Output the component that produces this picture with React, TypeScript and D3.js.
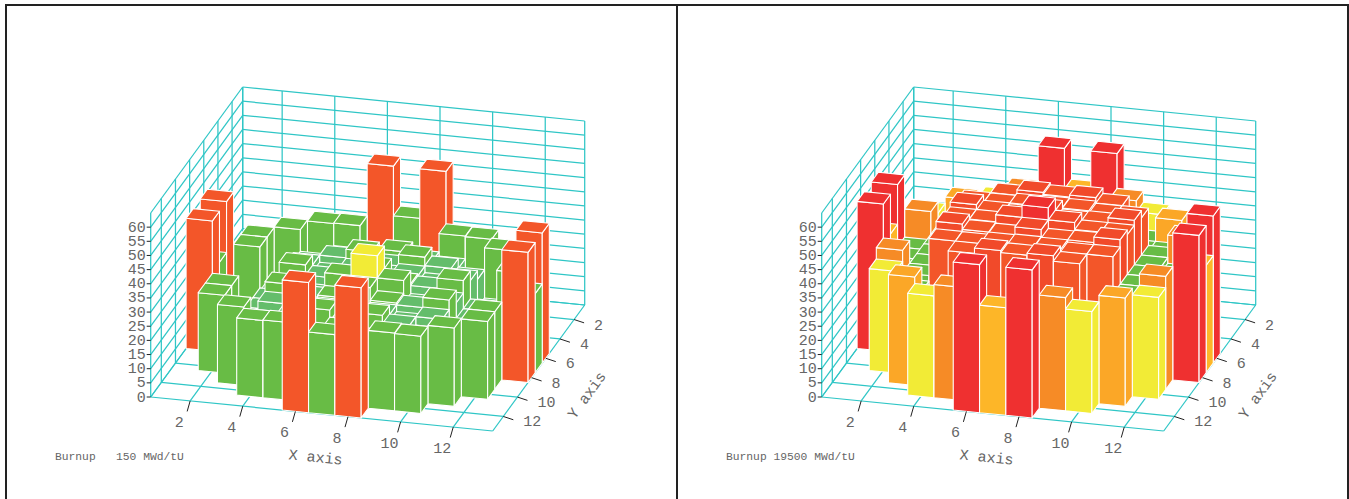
import React from "react";
import * as d3 from "d3";

const gridX = [1, 2, 3, 4, 5, 6, 7, 8, 9, 10, 11, 12, 13];
const gridY = [1, 2, 3, 4, 5, 6, 7, 8, 9, 10, 11, 12, 13];
const xTicks = [2, 4, 6, 8, 10, 12];
const yTicks = [2, 4, 6, 8, 10, 12];
const zTicks = [0, 5, 10, 15, 20, 25, 30, 35, 40, 45, 50, 55, 60];
const zGrid = [0, 5, 10, 15, 20, 25, 30, 35, 40, 45, 50, 55, 60, 65];

// burnup 150 MWd/tU: rows y=1..13, columns x=1..13, 0 = no assembly
const core150 = [
  [0, 0, 0, 0, 0, 46, 28.5, 46, 0, 0, 0, 0, 0],
  [0, 0, 0, 27.3, 27.5, 14, 14, 14, 27.5, 27.3, 0, 0, 0],
  [0, 0, 27.7, 14, 19.5, 21, 23.5, 21, 19.5, 14, 27.7, 0, 0],
  [0, 27.5, 10, 20, 23, 26, 22, 26, 23, 20, 10, 27.5, 0],
  [0, 27.5, 12, 23, 20.5, 22.8, 20, 22.8, 20.5, 23, 13, 27.5, 0],
  [46, 8, 13, 26.4, 22.8, 23.5, 28, 23.5, 22.8, 26.4, 16.5, 8, 46],
  [28, 10, 13, 22, 20, 28, 35.8, 28, 20, 22, 16.5, 10, 28],
  [46, 8, 13, 26.4, 22.8, 23.5, 28, 23.5, 22.8, 26.4, 16.5, 8, 46],
  [0, 27.5, 12, 23, 20.5, 22.8, 20, 22.8, 20.5, 23, 13, 27.5, 0],
  [0, 27.5, 10, 20, 23, 26, 22, 26, 23, 20, 10, 27.5, 0],
  [0, 0, 27.7, 14, 19.5, 21, 23.5, 21, 19.5, 14, 27.7, 0, 0],
  [0, 0, 0, 27.3, 27.5, 14, 14, 14, 27.5, 27.3, 0, 0, 0],
  [0, 0, 0, 0, 0, 46, 28.5, 46, 0, 0, 0, 0, 0],
];

// burnup 19500 MWd/tU
const core19500 = [
  [0, 0, 0, 0, 0, 52.3, 38, 52.3, 0, 0, 0, 0, 0],
  [0, 0, 0, 36, 40, 33, 33, 33, 40, 36, 0, 0, 0],
  [0, 0, 38.3, 30, 32, 30, 30, 30, 32, 30, 38.3, 0, 0],
  [0, 36, 30, 27, 45.1, 47, 46.3, 47, 45.1, 27, 30, 36, 0],
  [0, 40, 32, 45.1, 45, 45.8, 46, 45.8, 45, 45.1, 32, 40, 0],
  [52, 30, 32, 47.7, 45.8, 45.5, 48.5, 45.5, 45.8, 47.7, 32, 30, 52],
  [38, 30, 32, 46, 46, 48.5, 52.8, 48.5, 46, 46, 32, 30, 38],
  [52, 30, 32, 47.7, 45.8, 45.5, 48.5, 45.5, 45.8, 47.7, 32, 30, 52],
  [0, 40, 32, 45.1, 45, 45.8, 46, 45.8, 45, 45.1, 32, 40, 0],
  [0, 36, 30, 27, 45.1, 47, 46.3, 47, 45.1, 27, 30, 36, 0],
  [0, 0, 38.3, 30, 28, 30, 30, 30, 28, 30, 38.3, 0, 0],
  [0, 0, 0, 36, 40, 33, 33, 33, 40, 36, 0, 0, 0],
  [0, 0, 0, 0, 0, 52.3, 38, 52.3, 0, 0, 0, 0, 0],
];

const colorBreaks = [23.2, 33.5, 37, 38.2, 39.2, 41, 47, 50];
const colorRange = ["#64bd6b", "#68bc45", "#f2eb36", "#fdb628", "#fba727", "#f68b26", "#f35629", "#f14a2a", "#ef3030"];

const panels = [
  { left: 150.7, caption: "Burnup   150 MWd/tU", data: core150 },
  { left: 821.7, caption: "Burnup 19500 MWd/tU", data: core19500 },
];

const color = d3.scaleThreshold<number, string>().domain(colorBreaks).range(colorRange);

// affine oblique projection, each axis contributing a screen offset
const xPx = d3.scaleLinear().domain([0.5, 13.5]).range([0, 342]);
const xPy = d3.scaleLinear().domain([0.5, 13.5]).range([0, 34]);
const yPx = d3.scaleLinear().domain([13.5, 0.5]).range([0, 92]);
const yPy = d3.scaleLinear().domain([13.5, 0.5]).range([0, -126]);
const zPy = d3.scaleLinear().domain([0, 65]).range([0, -184]);

const GRID = "#2fc6c6";
const TXT = "#666666";
const MONO = "'Liberation Mono', monospace";

function Panel({ left, caption, data }: { left: number; caption: string; data: number[][] }) {
  const top = 397;
  const P = (x: number, y: number, z: number): [number, number] => [
    left + xPx(x) + yPx(y),
    top + xPy(x) + yPy(y) + zPy(z),
  ];
  const ln = (a: [number, number], b: [number, number], key: string, stroke = GRID) => (
    <line key={key} x1={a[0]} y1={a[1]} x2={b[0]} y2={b[1]} stroke={stroke} strokeWidth={1.25} />
  );
  const x0 = 0.5, x1 = 13.5, yF = 13.5, yB = 0.5, zT = 65;
  const poly = d3.line();
  const bars: React.ReactNode[] = [];
  gridY.forEach((y, r) =>
    gridX.forEach((x, c) => {
      const z = data[r][c];
      if (!z) return;
      const l = x - 0.5, h = x + 0.5, f = y + 0.5, b = y - 0.5;
      const fill = color(z);
      const common = { fill, stroke: "#ffffff", strokeWidth: 1.1, strokeLinejoin: "round" as const };
      bars.push(
        <g key={`${x}-${y}`}>
          <path d={poly([P(l, f, 0), P(h, f, 0), P(h, f, z), P(l, f, z)]) + "Z"} {...common} />
          <path d={poly([P(h, f, 0), P(h, b, 0), P(h, b, z), P(h, f, z)]) + "Z"} {...common} />
          <path d={poly([P(l, f, z), P(h, f, z), P(h, b, z), P(l, b, z)]) + "Z"} {...common} />
        </g>
      );
    })
  );
  return (
    <g>
      {zGrid.map((z) => (
        <g key={`z${z}`}>
          {ln(P(x0, yF, z), P(x0, yB, z), `zl${z}`)}
          {ln(P(x0, yB, z), P(x1, yB, z), `zb${z}`)}
        </g>
      ))}
      {[x0, ...xTicks, x1].map((x) => (
        <g key={`x${x}`}>
          {ln(P(x, yF, 0), P(x, yB, 0), `xf${x}`)}
          {ln(P(x, yB, 0), P(x, yB, zT), `xb${x}`)}
        </g>
      ))}
      {[yF, ...yTicks, yB].map((y) => (
        <g key={`y${y}`}>
          {ln(P(x0, y, 0), P(x1, y, 0), `yf${y}`)}
          {ln(P(x0, y, 0), P(x0, y, zT), `yl${y}`)}
        </g>
      ))}
      {bars}
      {zTicks.map((z) => {
        const p = P(x0, yF, z);
        return (
          <g key={`zt${z}`}>
            <line x1={p[0] - 4} y1={p[1]} x2={p[0]} y2={p[1]} stroke="#222" strokeWidth={1} />
            <text x={p[0] - 5} y={p[1] + 4.5} textAnchor="end" fontFamily={MONO} fontSize={15} fill={TXT}>{z}</text>
          </g>
        );
      })}
      {xTicks.map((x) => {
        const p = P(x, yF, 0);
        return (
          <g key={`xt${x}`}>
            <line x1={p[0]} y1={p[1]} x2={p[0] - 3} y2={p[1] + 10.5} stroke="#222" strokeWidth={1} />
            <text x={p[0] - 11} y={p[1] + 26} textAnchor="middle" fontFamily={MONO} fontSize={15} fill={TXT}>{x}</text>
          </g>
        );
      })}
      {yTicks.map((y) => {
        const p = P(x1, y, 0);
        return (
          <g key={`yt${y}`}>
            <line x1={p[0]} y1={p[1]} x2={p[0] + 10} y2={p[1] + 3.3} stroke="#222" strokeWidth={1} />
            <text x={p[0] + 20} y={p[1] + 10} textAnchor="start" fontFamily={MONO} fontSize={15} fill={TXT}>{y}</text>
          </g>
        );
      })}
      <text transform={`translate(${left + 164.5},${top + 65}) rotate(5.7)`} textAnchor="middle" fontFamily={MONO} fontSize={15} fill={TXT}>X axis</text>
      <text transform={`translate(${left + 440},${top + 1}) rotate(-54)`} textAnchor="middle" fontFamily={MONO} fontSize={15} fill={TXT}>Y axis</text>
      <text x={left - 95.7} y={460} fontFamily={MONO} fontSize={11.3} fill={TXT} style={{ whiteSpace: "pre" }}>{caption}</text>
    </g>
  );
}

export default function App() {
  return (
    <svg width={1349} height={499} style={{ position: "absolute", left: 0, top: 0, background: "#fff" }}>
      <line x1={5} y1={5} x2={1349} y2={5} stroke="#222" strokeWidth={2} />
      <line x1={6} y1={4} x2={6} y2={499} stroke="#222" strokeWidth={2} />
      <line x1={677} y1={4} x2={677} y2={499} stroke="#222" strokeWidth={2} />
      <line x1={1348} y1={4} x2={1348} y2={499} stroke="#222" strokeWidth={2} />
      {panels.map((p) => (
        <Panel key={p.caption} {...p} />
      ))}
    </svg>
  );
}
